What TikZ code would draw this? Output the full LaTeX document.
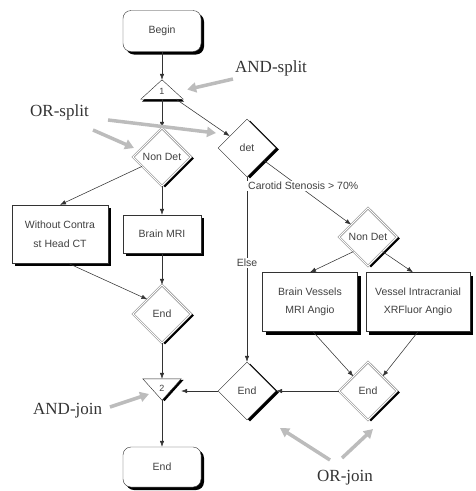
\documentclass[tikz,border=0pt]{standalone}
\usepackage{fontspec}
\setmainfont{Liberation Serif}
\setsansfont{Liberation Sans}
\usetikzlibrary{shapes.geometric,arrows.meta,shadows,calc}
\definecolor{annot}{RGB}{188,188,188}
\begin{document}
\begin{tikzpicture}[x=1pt,y=-1pt,
  every node/.style={font=\sffamily\fontsize{10.5}{18.5}\selectfont, text=black!75},
  shad/.style={drop shadow={shadow xshift=3pt,shadow yshift=-3pt,fill=black,opacity=1}},
  term/.style={rectangle,rounded corners=8pt,draw=black!80,fill=white,shad,minimum width=78pt,minimum height=41pt,inner sep=1pt},
  task/.style={rectangle,draw=black!80,fill=white,shad,align=center,inner sep=2pt},
  dia/.style={diamond,draw=black!85,fill=white,aspect=1,minimum width=58pt,minimum height=58pt,inner sep=0pt,
    drop shadow={shadow xshift=3pt,shadow yshift=-1.5pt,fill=black,opacity=1}},
  ordia/.style={dia,draw=black!65,double=white,double distance=1.2pt},
  gate/.style={rectangle,inner sep=0pt,draw=none,font=\sffamily\fontsize{9}{10}\selectfont},
  flow/.style={draw=black!80,line width=0.55pt,-{Latex[length=6pt,width=4.5pt]}},
  callout/.style={draw=annot,line width=3.5pt,-{Triangle[length=9pt,width=10pt]}},
  anntext/.style={font=\rmfamily\fontsize{17}{20}\selectfont,text=black!80,inner sep=0pt},
  elabel/.style={fill=white,inner sep=1pt},
]
\useasboundingbox (0,0) rectangle (476,491);

% ---------- nodes ----------
\node[term] (begin) at (162,31) {Begin};
\node[gate,minimum width=42pt,minimum height=19pt] (t1) at (162,89.5) {};
\node[ordia] (nd1) at (162,157) {Non Det};
\node[dia] (det) at (247,148) {det};
\node[task,minimum width=96pt,minimum height=58pt] (wo) at (60,234) {Without Contra\\st Head CT};
\node[task,minimum width=78pt,minimum height=38pt] (mri) at (162,234) {Brain MRI};
\node[ordia] (end1) at (162,314) {End};
\node[gate,minimum width=38pt,minimum height=21pt] (t2) at (162,389.5) {};
\node[term,minimum height=40pt] (endbox) at (162,467) {End};
\node[ordia] (nd2) at (368,237) {Non Det};
\node[task,minimum width=95pt,minimum height=59pt] (bv) at (310,302) {Brain Vessels\\MRI Angio};
\node[task,minimum width=104pt,minimum height=59pt] (vi) at (418,302) {Vessel Intracranial\\XRFluor Angio};
\node[ordia] (end3) at (368,391) {End};
\node[dia] (end2) at (247,391) {End};

% ---------- gate triangles ----------
\fill[black] ($(t1.north)+(1,2.5)$) -- ($(t1.south east)+(1,2.5)$) -- ($(t1.south west)+(1,2.5)$) -- cycle;
\draw[black!85,fill=white] (t1.north) -- (t1.south east) -- (t1.south west) -- cycle;
\node[gate] (t1lab) at ($(t1.center)+(0,2)$) {1};
\fill[black] ($(t2.north west)+(2.5,1)$) -- ($(t2.north east)+(2.5,1)$) -- ($(t2.south)+(2.5,1)$) -- cycle;
\draw[black!85,fill=white] (t2.north west) -- (t2.north east) -- (t2.south) -- cycle;
\node[gate] (t2lab) at ($(t2.center)+(0,-1.5)$) {2};

% ---------- connectors ----------
\draw[flow] (begin.south) -- (t1.north);
\draw[flow] (t1.south) -- (nd1.north);
\draw[flow] (t1) -- (det);
\draw[flow] (nd1) -- (wo.north);
\draw[flow] (nd1.south) -- (mri.north);
\draw[flow] ([xshift=8pt]wo.south) -- (end1.north west);
\draw[flow] (mri.south) -- (end1.north);
\draw[flow] (end1.south) -- (t2.north);
\draw[flow] (t2.south) -- (endbox.north);
\draw[flow] (det) -- (nd2);
\draw[flow] (det.south) -- node[elabel,pos=0.465] (elselab) {Else} (end2.north);
\draw[flow] (nd2.south west) -- (bv.north);
\draw[flow] (nd2.south east) -- ([xshift=-5pt]vi.north);
\draw[flow] ([xshift=3pt]bv.south) -- (end3.north west);
\draw[flow] (vi.south) -- (end3.north east);
\draw[flow] (end3.west) -- (end2.east);
\draw[flow] (end2.west) -- (end2.west -| t2.east);
\node[elabel,anchor=west] (carlab) at (247,186) {Carotid Stenosis > 70\%};

% ---------- annotations ----------
\node[anntext,anchor=west] (andsplit) at (235,68) {AND-split};
\node[anntext,anchor=west] (orsplit) at (30,112) {OR-split};
\node[anntext,anchor=west] (andjoin) at (33,411) {AND-join};
\node[anntext] (orjoin) at (345,478) {OR-join};
\coordinate (as1) at (233,79);
\coordinate (os1) at (108,120);
\coordinate (os1e) at (216,133);
\coordinate (os2) at (93,130);
\coordinate (os2e) at (134,148);
\coordinate (aj1) at (110,407);
\coordinate (aj1e) at (149,394);
\coordinate (oj1) at (330,460);
\coordinate (oj1e) at (280,428);
\coordinate (oj2) at (342,458);
\coordinate (oj2e) at (373,429);
\draw[callout] (as1) -- ([xshift=4pt]t1.east);
\draw[callout] (os1) -- (os1e);
\draw[callout] (os2) -- (os2e);
\draw[callout] (aj1) -- (aj1e);
\draw[callout] (oj1) -- (oj1e);
\draw[callout] (oj2) -- (oj2e);
\end{tikzpicture}
\end{document}
